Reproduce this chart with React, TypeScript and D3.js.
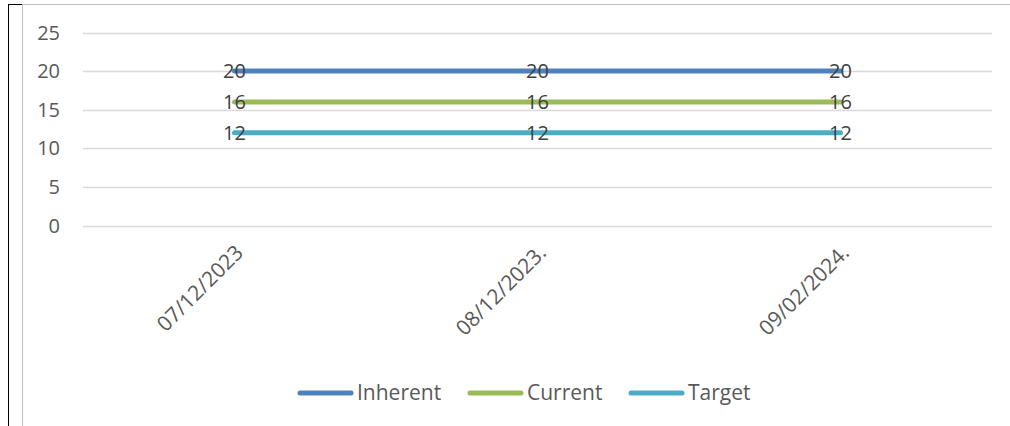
import React, { useEffect, useRef } from 'react';
import * as d3 from 'd3';

const categories = ['07/12/2023', '08/12/2023.', '09/02/2024.'];
const seriesNames = ['Inherent', 'Current', 'Target'];
const inherent = [20, 20, 20];
const current = [16, 16, 16];
const target = [12, 12, 12];
const yTicks = [0, 5, 10, 15, 20, 25];
const colors = ['#4F81BD', '#9BBB59', '#4BACC6'];

const W = 1010;
const H = 426;
const FONT = '"Open Sans", "Liberation Sans", sans-serif';

const App: React.FC = () => {
  const ref = useRef<SVGSVGElement>(null);

  useEffect(() => {
    const svg = d3.select(ref.current);
    svg.selectAll('*').remove();

    const series = [inherent, current, target];

    // frame
    svg.append('rect')
      .attr('x', 22.5).attr('y', 4.5)
      .attr('width', W).attr('height', H)
      .attr('fill', 'white').attr('stroke', '#bfbfbf');
    svg.append('line')
      .attr('x1', 8.5).attr('x2', 8.5).attr('y1', 4).attr('y2', H)
      .attr('stroke', '#000');
    svg.append('line')
      .attr('x1', 8).attr('x2', 22).attr('y1', 4.5).attr('y2', 4.5)
      .attr('stroke', '#000');

    const x = d3.scaleBand()
      .domain(categories)
      .range([83, 992]);

    const y = d3.scaleLinear()
      .domain([0, 25])
      .range([225.5, 32.5]);

    const cx = (c: string) => (x(c) ?? 0) + x.bandwidth() / 2;

    // gridlines
    svg.append('g')
      .selectAll('line')
      .data(yTicks)
      .enter()
      .append('line')
      .attr('x1', 83).attr('x2', 992)
      .attr('y1', (d) => Math.round(y(d)) + 0.5)
      .attr('y2', (d) => Math.round(y(d)) + 0.5)
      .attr('stroke', '#d9d9d9')
      .attr('stroke-width', 1.5);

    svg.append('g')
      .selectAll('text')
      .data(yTicks)
      .enter()
      .append('text')
      .attr('x', 60)
      .attr('y', (d) => y(d))
      .attr('dy', '0.35em')
      .attr('text-anchor', 'end')
      .attr('font-family', FONT)
      .attr('font-size', 20)
      .attr('fill', '#595959')
      .text((d) => d);

    // x labels
    svg.append('g')
      .selectAll('text')
      .data(categories)
      .enter()
      .append('text')
      .attr('transform', (d) => `translate(${cx(d) + 10},${254}) rotate(-45)`)
      .attr('text-anchor', 'end')
      .attr('font-family', FONT)
      .attr('font-size', 21)
      .attr('fill', '#595959')
      .text((d) => d);

    const line = d3.line<number>()
      .x((_, i) => cx(categories[i]))
      .y((d) => y(d));

    series.forEach((s, k) => {
      svg.append('path')
        .datum(s)
        .attr('d', line)
        .attr('fill', 'none')
        .attr('stroke', colors[k])
        .attr('stroke-width', 5)
        .attr('stroke-linecap', 'round');
    });

    series.forEach((s) => {
      svg.append('g')
        .selectAll('text')
        .data(s)
        .enter()
        .append('text')
        .attr('x', (_, i) => cx(categories[i]))
        .attr('y', (d) => y(d))
        .attr('dy', '0.35em')
        .attr('text-anchor', 'middle')
        .attr('font-family', FONT)
        .attr('font-size', 20)
        .attr('fill', '#404040')
        .text((d) => d);
    });

    // legend
    const legendX = [298, 468, 629];
    const legend = svg.append('g');
    seriesNames.forEach((name, k) => {
      legend.append('line')
        .attr('x1', legendX[k] + 2).attr('x2', legendX[k] + 53)
        .attr('y1', 393).attr('y2', 393)
        .attr('stroke', colors[k])
        .attr('stroke-width', 5)
        .attr('stroke-linecap', 'round');
      legend.append('text')
        .attr('x', legendX[k] + 59)
        .attr('y', 393)
        .attr('dy', '0.35em')
        .attr('font-family', FONT)
        .attr('font-size', 21)
        .attr('fill', '#595959')
        .text(name);
    });
  }, []);

  return (
    <svg
      ref={ref}
      width={W}
      height={H}
      style={{ position: 'absolute', left: 0, top: 0, background: 'white' }}
    />
  );
};

export default App;
